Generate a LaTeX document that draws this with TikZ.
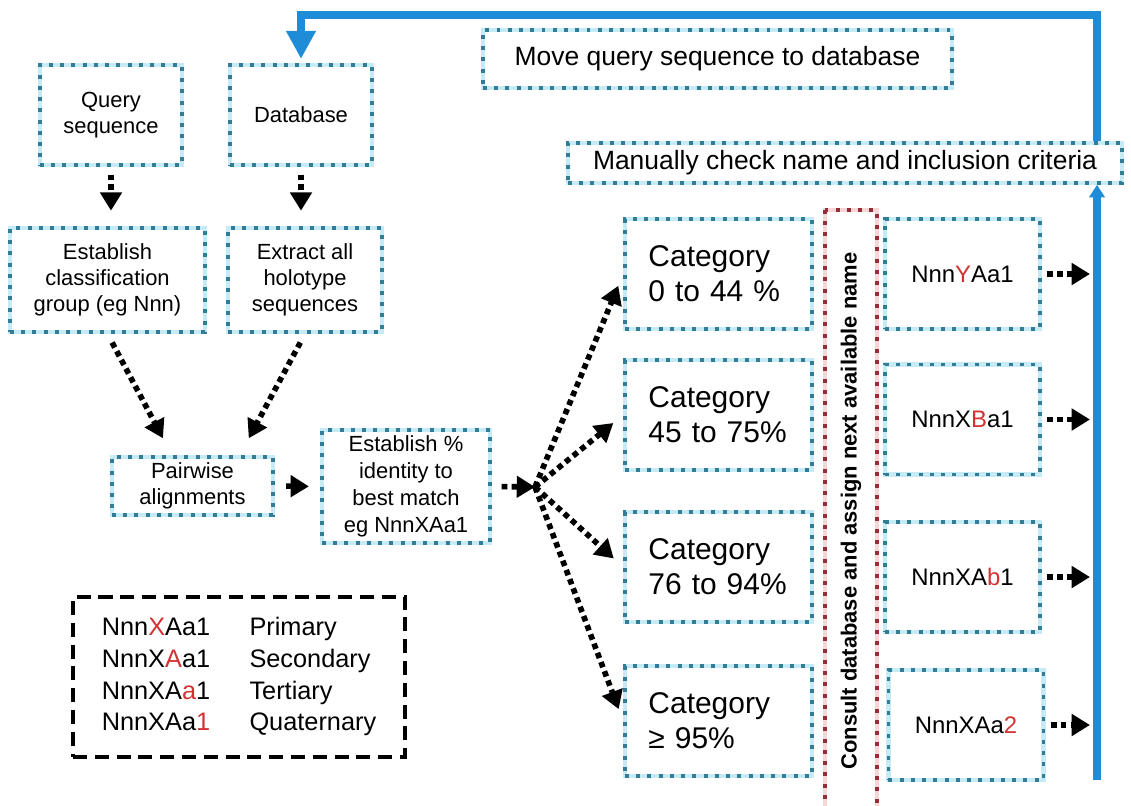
\documentclass[tikz,border=0pt]{standalone}
\usepackage{fontspec}
\setmainfont{Liberation Sans}
\usepackage{xcolor}
\usetikzlibrary{arrows.meta, positioning}

\definecolor{boxdot}{RGB}{50,125,150}
\definecolor{boxglow}{RGB}{198,234,246}
\definecolor{reddot}{RGB}{150,45,55}
\definecolor{redglow}{RGB}{246,214,214}
\definecolor{namered}{RGB}{210,50,50}
\definecolor{railblue}{RGB}{30,140,215}

\newcommand{\hl}[1]{\textcolor{namered}{#1}}

\tikzset{
  dotbox/.style={rectangle, draw=boxdot, line width=2.6pt, dash pattern=on 2.8pt off 5.2pt,
    preaction={draw=boxglow, line width=3.4pt, solid}, align=center, inner sep=0pt,
    font=\fontsize{15.6}{18.5}\selectfont},
  catbox/.style={dotbox, minimum width=4.675cm, minimum height=2.75cm, text width=3.5cm,
    align=left, font=\fontsize{21.3}{25}\selectfont},
  namebox/.style={dotbox, minimum width=3.875cm, minimum height=2.75cm,
    font=\fontsize{17}{20}\selectfont},
  widebox/.style={dotbox, font=\fontsize{18.8}{22}\selectfont},
  redbox/.style={rectangle, draw=reddot, line width=2.6pt, dash pattern=on 2.8pt off 5.2pt,
    preaction={draw=redglow, line width=3.4pt, solid}, inner sep=0pt,
    font=\bfseries\fontsize{15.6}{18}\selectfont},
  legendbox/.style={rectangle, draw=black, line width=2.8pt, dash pattern=on 10pt off 5.5pt,
    minimum width=8.3cm, minimum height=4cm, inner sep=0pt, font=\fontsize{18}{22.5}\selectfont},
  flowarrow/.style={draw=black, line width=4pt, dash pattern=on 4pt off 3pt,
    -{Triangle[width=15pt,length=13pt]}},
  railline/.style={draw=railblue, line width=5pt}
}

\begin{document}
\begin{tikzpicture}[x=0.025cm, y=-0.025cm]
  \useasboundingbox (0,0) rectangle (1131,805);

  % Entradas
  \node[dotbox, minimum width=3.55cm, minimum height=2.5cm] (query) at (111,115) {Query\\sequence};
  \node[dotbox, minimum width=3.55cm, minimum height=2.5cm] (dbase) at (301,115) {Database};
  \node[dotbox, minimum width=4.875cm, minimum height=2.6cm] (classif) at (107.5,280) {Establish\\classification\\group (eg Nnn)};
  \node[dotbox, minimum width=3.85cm, minimum height=2.6cm] (holo) at (305,280) {Extract all\\holotype\\sequences};
  \node[dotbox, minimum width=4.025cm, minimum height=1.45cm] (pair) at (192.5,486) {Pairwise\\alignments};
  \node[dotbox, minimum width=4.2cm, minimum height=2.825cm, font=\fontsize{15.6}{19.2}\selectfont] (ident) at (406,486.5) {Establish \%\\identity to\\best match\\eg NnnXAa1};

  \draw[flowarrow, shorten <=5.5pt, shorten >=11pt] (query.south) -- (query.south |- classif.north);
  \draw[flowarrow, shorten <=5.5pt, shorten >=11pt] (dbase.south) -- (dbase.south |- holo.north);
  \draw[flowarrow, shorten <=7pt] (classif.south) -- ([xshift=-21pt,yshift=12pt]pair.north);
  \draw[flowarrow, shorten <=7pt] (holo.south) -- ([xshift=40pt,yshift=12pt]pair.north);
  \draw[flowarrow, shorten <=8pt, shorten >=8pt] (pair.east) -- (ident.west);

  % Categorias
  \node[catbox] (cat1) at (718.5,274) {Category\\0 to 44 \%};
  \node[catbox] (cat2) at (718.5,415) {Category\\45 to 75\%};
  \node[catbox] (cat3) at (718.5,567) {Category\\76 to 94\%};
  \node[catbox] (cat4) at (718.5,721) {Category\\≥ 95\%};

  \coordinate (fan) at (535,487);
  \draw[flowarrow, shorten <=7pt] (ident.east) -- (fan);
  \foreach \c in {cat1,cat2,cat3,cat4}
    \draw[flowarrow, shorten >=9pt] (fan) -- (\c.west);

  % Nomes
  \node[redbox, rotate=90, minimum width=15.05cm, minimum height=1.3cm] (consult) at (851,511) {Consult database and assign next available name};
  \node[namebox] (nameY) at (962.5,274) {Nnn\hl{Y}Aa1};
  \node[namebox] (nameB) at (962.5,419.5) {NnnX\hl{B}a1};
  \node[namebox] (nameb) at (962.5,577) {NnnXA\hl{b}1};
  \node[namebox] (name2) at (966,725) {NnnXAa\hl{2}};

  % Retorno
  \node[widebox, minimum width=11.725cm, minimum height=1.45cm] (move) at (717.5,59) {Move query sequence to database};
  \node[widebox, minimum width=13.85cm, minimum height=1.0cm] (manual) at (845,163) {Manually check name and inclusion criteria};

  \coordinate (railtop) at (1097,15);
  \coordinate (railbot) at (1097,780);
  \foreach \n in {nameY,nameB,nameb,name2}
    \draw[flowarrow, shorten <=4pt, shorten >=5pt] (\n.east) -- (\n.east -| railbot);
  \draw[railline, -{Triangle[width=11pt,length=9pt]}] (railbot) -- (railbot |- manual.south);
  \draw[railline, -{Triangle[width=20pt,length=20pt]}, shorten >=3pt] (railtop |- manual.north) -- (railtop) -| (dbase.north);

  % Legenda
  \node[legendbox] (legend) at (239,677) {%
    \begin{tabular}{@{}l@{\hspace{28pt}}l@{}}
      Nnn\hl{X}Aa1 & Primary\\
      NnnX\hl{A}a1 & Secondary\\
      NnnXA\hl{a}1 & Tertiary\\
      NnnXAa\hl{1} & Quaternary
    \end{tabular}};
\end{tikzpicture}
\end{document}
